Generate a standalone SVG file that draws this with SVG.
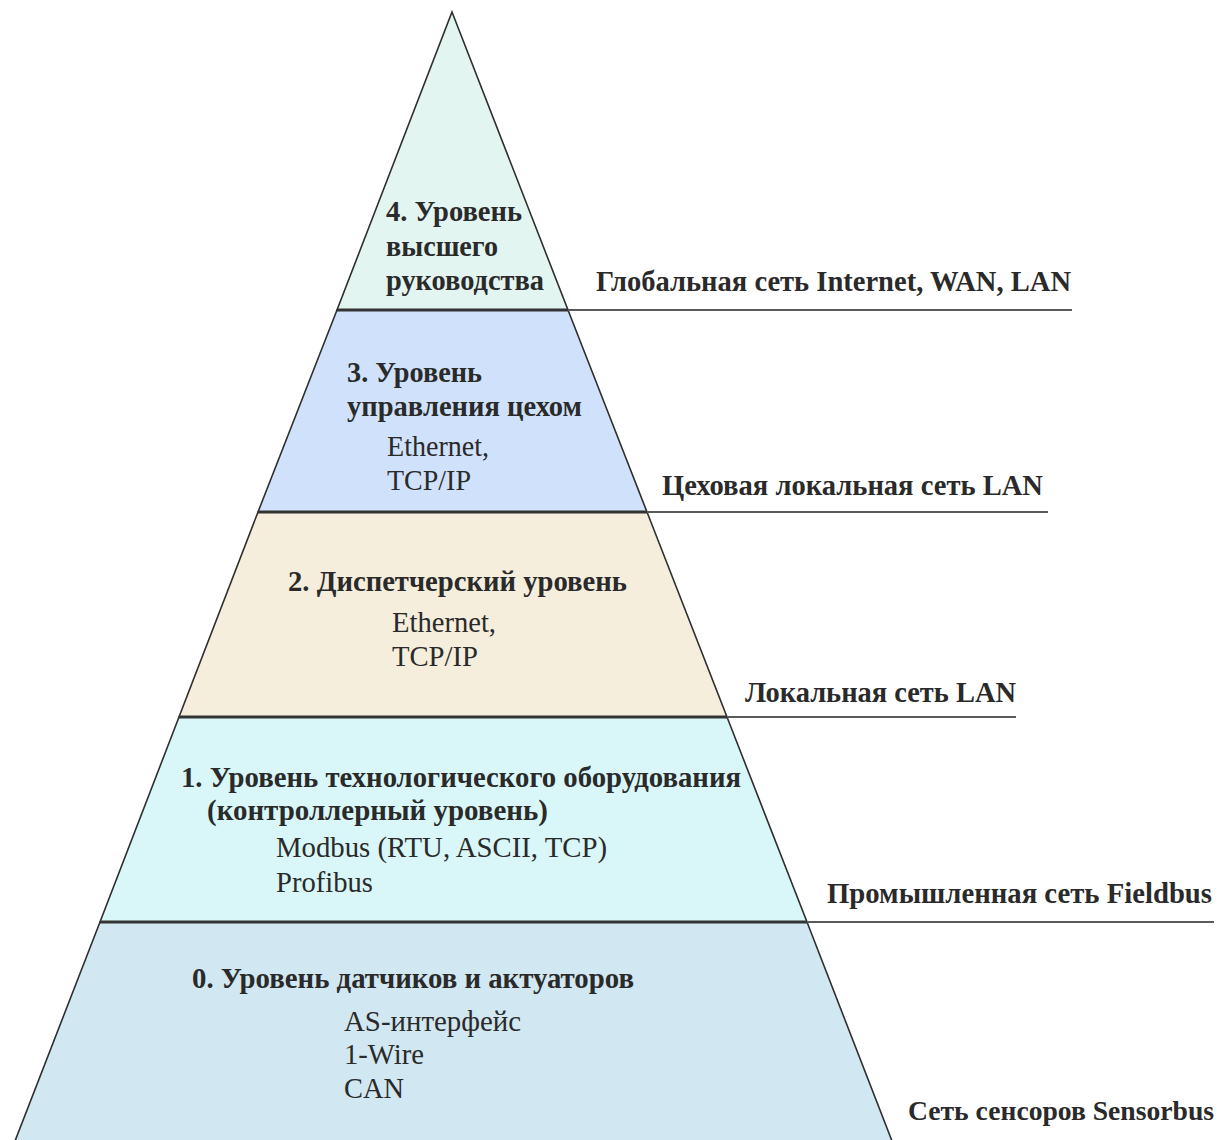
<svg xmlns="http://www.w3.org/2000/svg" width="1230" height="1140" viewBox="0 0 1230 1140">
  <style>
    .tier { stroke: #2f2f2f; stroke-width: 1.6; stroke-linejoin: miter; }
    .divider { stroke: #333333; stroke-width: 3; }
    .leader { stroke: #5a5a5a; stroke-width: 2; }
    .title { font-family: "Liberation Serif", "Times New Roman", serif; font-weight: bold; font-size: 30px; fill: #2a2a2a; }
    .proto { font-family: "Liberation Serif", "Times New Roman", serif; font-size: 29px; fill: #2a2a2a; }
    .net { font-family: "Liberation Serif", "Times New Roman", serif; font-weight: bold; font-size: 30px; fill: #2a2a2a; }
    .net-edge { font-size: 28px; }
  </style>

  <rect x="0" y="0" width="1230" height="1140" fill="#ffffff"/>

  <!-- Level 4: top management -->
  <g id="level-4">
    <polygon class="tier" fill="#e3f5f0" points="452,12 568,310 337,310"/>
    <text class="title" x="386" y="221" textLength="136" lengthAdjust="spacingAndGlyphs">4. Уровень</text>
    <text class="title" x="386" y="256" textLength="112" lengthAdjust="spacingAndGlyphs">высшего</text>
    <text class="title" x="386" y="290" textLength="158" lengthAdjust="spacingAndGlyphs">руководства</text>
  </g>

  <!-- Level 3: shop floor control -->
  <g id="level-3">
    <polygon class="tier" fill="#d0e2fb" points="337,310 568,310 647,512 258,512"/>
    <text class="title" x="347" y="382" textLength="135" lengthAdjust="spacingAndGlyphs">3. Уровень</text>
    <text class="title" x="347" y="416" textLength="235" lengthAdjust="spacingAndGlyphs">управления цехом</text>
    <text class="proto" x="387" y="456" textLength="102" lengthAdjust="spacingAndGlyphs">Ethernet,</text>
    <text class="proto" x="387" y="490" textLength="84" lengthAdjust="spacingAndGlyphs">TCP/IP</text>
  </g>

  <!-- Level 2: dispatch -->
  <g id="level-2">
    <polygon class="tier" fill="#f5eedc" points="258,512 647,512 727,717 179,717"/>
    <text class="title" x="288" y="591" textLength="339" lengthAdjust="spacingAndGlyphs">2. Диспетчерский уровень</text>
    <text class="proto" x="392" y="632" textLength="104" lengthAdjust="spacingAndGlyphs">Ethernet,</text>
    <text class="proto" x="392" y="666" textLength="86" lengthAdjust="spacingAndGlyphs">TCP/IP</text>
  </g>

  <!-- Level 1: process equipment / controllers -->
  <g id="level-1">
    <polygon class="tier" fill="#d9f7f8" points="179,717 727,717 807,922 100,922"/>
    <text class="title" x="181" y="787" textLength="560" lengthAdjust="spacingAndGlyphs">1. Уровень технологического оборудования</text>
    <text class="title" x="207" y="820" textLength="341" lengthAdjust="spacingAndGlyphs">(контроллерный уровень)</text>
    <text class="proto" x="276" y="857" textLength="331" lengthAdjust="spacingAndGlyphs">Modbus (RTU, ASCII, TCP)</text>
    <text class="proto" x="276" y="892" textLength="97" lengthAdjust="spacingAndGlyphs">Profibus</text>
  </g>

  <!-- Level 0: sensors and actuators -->
  <g id="level-0">
    <polygon class="tier" fill="#d1e7f2" points="100,922 807,922 892,1141 15,1141"/>
    <text class="title" x="192" y="988" textLength="442" lengthAdjust="spacingAndGlyphs">0. Уровень датчиков и актуаторов</text>
    <text class="proto" x="344" y="1031" textLength="177" lengthAdjust="spacingAndGlyphs">AS-интерфейс</text>
    <text class="proto" x="344" y="1064" textLength="80" lengthAdjust="spacingAndGlyphs">1-Wire</text>
    <text class="proto" x="344" y="1098" textLength="60" lengthAdjust="spacingAndGlyphs">CAN</text>
  </g>

  <!-- Tier boundaries and their leader lines to the network labels -->
  <g id="connectors">
    <line class="divider" x1="337" y1="310" x2="568" y2="310"/>
    <line class="divider" x1="258" y1="512" x2="647" y2="512"/>
    <line class="divider" x1="179" y1="717" x2="727" y2="717"/>
    <line class="divider" x1="100" y1="922" x2="807" y2="922"/>
    <line class="leader" x1="568" y1="310" x2="1072" y2="310"/>
    <line class="leader" x1="647" y1="512" x2="1048" y2="512"/>
    <line class="leader" x1="727" y1="717" x2="1016" y2="717"/>
    <line class="leader" x1="807" y1="922" x2="1214" y2="922"/>
  </g>

  <!-- Network labels -->
  <g id="network-labels">
    <text class="net" x="596" y="291" textLength="475" lengthAdjust="spacingAndGlyphs">Глобальная сеть Internet, WAN, LAN</text>
    <text class="net" x="662" y="495" textLength="381" lengthAdjust="spacingAndGlyphs">Цеховая локальная сеть LAN</text>
    <text class="net" x="745" y="702" textLength="271" lengthAdjust="spacingAndGlyphs">Локальная сеть LAN</text>
    <text class="net" x="827" y="903" textLength="385" lengthAdjust="spacingAndGlyphs">Промышленная сеть Fieldbus</text>
    <text class="net net-edge" x="908" y="1120" textLength="306" lengthAdjust="spacingAndGlyphs">Сеть сенсоров Sensorbus</text>
  </g>
</svg>
